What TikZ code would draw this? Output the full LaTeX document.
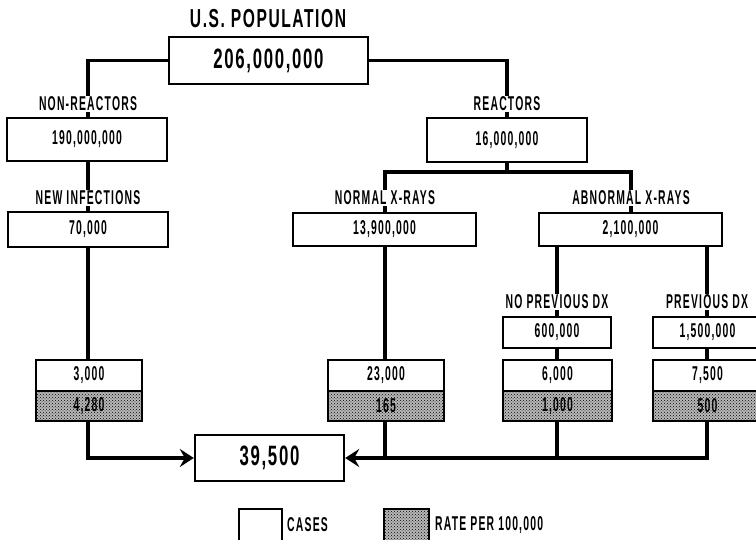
\documentclass[tikz,border=0pt]{standalone}
\usepackage{fontspec}
\usetikzlibrary{arrows.meta,patterns}
\newfontfamily\cnd{Liberation Sans}[FakeStretch=0.52,LetterSpace=6]
\newfontfamily\cndw{Liberation Sans}[FakeStretch=0.6,LetterSpace=6]
\begin{document}
\begin{tikzpicture}[x=1pt,y=-1pt,
  txt/.style={font=\cnd\bfseries\fontsize{20}{20}\selectfont},
  bigtxt/.style={font=\cndw\bfseries\fontsize{28}{28}\selectfont},
  box/.style={draw, line width=1.6pt, fill=white, inner sep=0pt, txt},
  casebox/.style={box, line width=2.2pt},
  stip/.style={preaction={fill=black!28}, pattern=crosshatch dots, pattern color=black},
  ratebox/.style={draw, line width=2.2pt, inner sep=0pt, txt, stip},
  lbl/.style={inner sep=1pt, txt},
  conn/.style={line width=3.5pt},
  arr/.style={conn, -{Stealth[length=14pt,width=18pt,inset=5pt]}}
]
\clip (0,0) rectangle (756,540);
\useasboundingbox (0,0) rectangle (756,540);

% title and top box
\node[inner sep=0pt, font=\cndw\bfseries\fontsize{26}{26}\selectfont] (title) at (268,19) {U.S. POPULATION};
\node[box, bigtxt, minimum width=199pt, minimum height=47pt] (top) at (268.5,60.5) {206,000,000};

% left branch
\node[lbl] (nrl) at (88,104) {NON-REACTORS};
\node[box, minimum width=160pt, minimum height=43pt] (nr) at (87,139.5) {190,000,000};
\node[lbl] (nil) at (88,198) {NEW INFECTIONS};
\node[box, minimum width=160pt, minimum height=35pt] (ni) at (88,229.5) {70,000};
\node[casebox, minimum width=106pt, minimum height=31pt] (c1) at (89,375.5) {3,000};
\node[ratebox, minimum width=106pt, minimum height=30pt] (c1r) at (89,406) {4,280};

% right branch
\node[lbl] (rel) at (507,104) {REACTORS};
\node[box, minimum width=160pt, minimum height=44pt] (re) at (507,140) {16,000,000};
\coordinate (j) at (507,172);
\node[lbl] (nxl) at (385,198) {NORMAL X-RAYS};
\node[box, minimum width=183pt, minimum height=33pt] (nx) at (384.5,229.5) {13,900,000};
\node[lbl] (axl) at (631,198) {ABNORMAL X-RAYS};
\node[box, minimum width=183pt, minimum height=33pt] (ax) at (630.5,229.5) {2,100,000};
\node[lbl] (npl) at (557,302) {NO PREVIOUS DX};
\node[box, minimum width=108pt, minimum height=31pt] (np) at (557,332.5) {600,000};
\node[lbl] (pvl) at (707,302) {PREVIOUS DX};
\node[box, minimum width=109pt, minimum height=31pt] (pv) at (707.5,332.5) {1,500,000};

\node[casebox, minimum width=116pt, minimum height=31pt] (c2) at (386,375.5) {23,000};
\node[ratebox, minimum width=116pt, minimum height=30pt] (c2r) at (386,406) {165};
\node[casebox, minimum width=109pt, minimum height=31pt] (c3) at (557.5,375.5) {6,000};
\node[ratebox, minimum width=109pt, minimum height=30pt] (c3r) at (557.5,406) {1,000};
\node[casebox, minimum width=109pt, minimum height=31pt] (c4) at (707.5,375.5) {7,500};
\node[ratebox, minimum width=109pt, minimum height=30pt] (c4r) at (707.5,406) {500};

% total
\node[box, bigtxt, line width=2.4pt, minimum width=149pt, minimum height=46pt] (fin) at (269.5,458) {39,500};

% connectors
\draw[conn] (top.west) -| (nrl.north);
\draw[conn] (nrl.south) -- (nrl.south |- nr.north);
\draw[conn] (nrl.south |- nr.south) -- (nil.north);
\draw[conn] (nil.south) -- (nil.south |- ni.north);
\draw[conn] (nil.south |- ni.south) -- (nil.south |- c1.north);
\draw[arr] (nil.south |- c1r.south) |- (fin.west);

\draw[conn] (top.east) -| (rel.north);
\draw[conn] (rel.south) -- (re.north);
\draw[conn] (re.south) -- (j);
\draw[conn] (nxl.north) |- (j) -| (axl.north);
\draw[conn] (nxl.south) -- (nxl.south |- nx.north);
\draw[conn] (axl.south) -- (axl.south |- ax.north);
\draw[conn] (nxl.south |- nx.south) -- (nxl.south |- c2.north);
\draw[conn] (ax.south -| npl.north) -- (npl.north);
\draw[conn] (ax.south -| pvl.north) -- (pvl.north);
\draw[conn] (npl.south) -- (np.north);
\draw[conn] (pvl.south) -- (pvl.south |- pv.north);
\draw[conn] (np.south) -- (np.south |- c3.north);
\draw[conn] (pvl.south |- pv.south) -- (pvl.south |- c4.north);
\draw[conn] (nxl.south |- c2r.south) -- (nxl.south |- fin.east);
\draw[conn] (np.south |- c3r.south) -- (np.south |- fin.east);
\draw[arr] (pvl.south |- c4r.south) |- (fin.east);

% legend
\node[draw, line width=1.6pt, minimum width=43pt, minimum height=36pt, inner sep=0pt] (lg1) at (260.5,527) {};
\node[lbl, anchor=west] (lg1t) at (286,525) {CASES};
\node[draw, line width=1.6pt, minimum width=45pt, minimum height=36pt, inner sep=0pt, stip] (lg2) at (406.5,527) {};
\node[lbl, anchor=west] (lg2t) at (434,525) {RATE PER 100,000};
\end{tikzpicture}
\end{document}
